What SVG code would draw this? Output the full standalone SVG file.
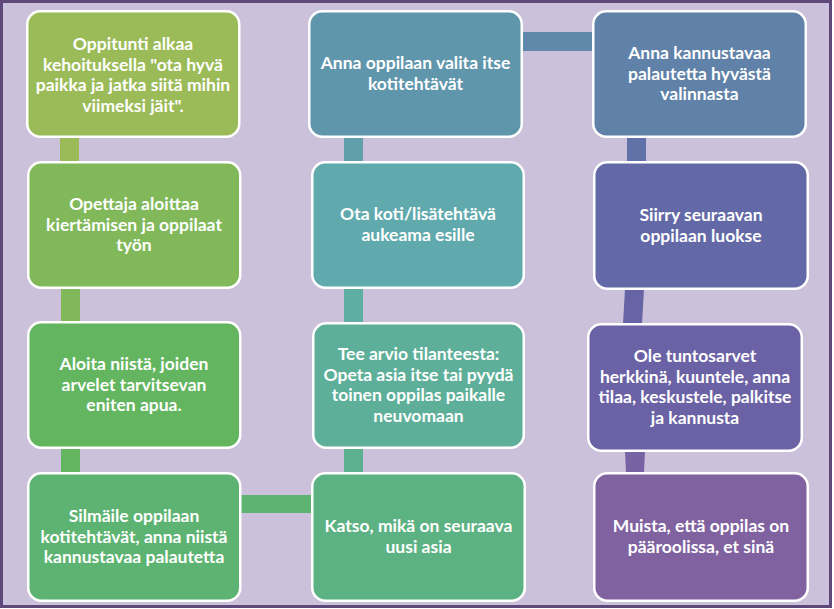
<svg xmlns="http://www.w3.org/2000/svg" width="834" height="609" viewBox="0 0 834 609">
<style>
.box{stroke:#FFFFFF;stroke-width:2.5}
.t{font-family:Lato,"Open Sans","Liberation Sans",sans-serif;font-weight:bold;font-size:17.5px;fill:#FFFFFF;text-anchor:middle}
</style>
<rect x="1.5" y="1.5" width="829" height="605" fill="#CCC1DA" stroke="#5F497A" stroke-width="3"/>
<g id="connectors">
<rect x="60" y="137" width="19" height="25" fill="#9BBB59"/>
<rect x="61" y="288" width="19" height="34" fill="#80B85A"/>
<rect x="61" y="448" width="19" height="25" fill="#63B55F"/>
<rect x="240" y="495" width="72" height="18" fill="#5DB371"/>
<rect x="344" y="448" width="19" height="25" fill="#5DB08F"/>
<rect x="344" y="288" width="19" height="35" fill="#5FAEA4"/>
<rect x="344" y="137" width="19" height="25" fill="#5FA0AC"/>
<rect x="522" y="32" width="71" height="19" fill="#6089A9"/>
<rect x="627" y="137" width="19" height="25" fill="#6172A8"/>
<polygon points="625,289 644,289 642,324 623,324" fill="#6764A6"/>
<polygon points="625,451 645,451 644,473 626,473" fill="#7762A3"/>
</g>
<g id="n1"><rect class="box" x="27.25" y="11.25" width="212" height="125.5" rx="13" fill="#9BBB59"/>
<text class="t" x="133" y="50">Oppitunti alkaa</text>
<text class="t" x="133" y="70.5">kehoituksella "ota hyvä</text>
<text class="t" x="133" y="91">paikka ja jatka siitä mihin</text>
<text class="t" x="133" y="111.5">viimeksi jäit".</text></g>
<g id="n2"><rect class="box" x="28.25" y="162.25" width="212" height="125.5" rx="13" fill="#80B85A"/>
<text class="t" x="134" y="210">Opettaja aloittaa</text>
<text class="t" x="134" y="230.5">kiertämisen ja oppilaat</text>
<text class="t" x="134" y="251">työn</text></g>
<g id="n3"><rect class="box" x="28.25" y="322.25" width="212" height="125.5" rx="13" fill="#63B55F"/>
<text class="t" x="134" y="370">Aloita niistä, joiden</text>
<text class="t" x="134" y="390.5">arvelet tarvitsevan</text>
<text class="t" x="134" y="411">eniten apua.</text></g>
<g id="n4"><rect class="box" x="28.25" y="473.25" width="212" height="127.5" rx="13" fill="#5DB371"/>
<text class="t" x="134" y="522">Silmäile oppilaan</text>
<text class="t" x="134" y="542.5">kotitehtävät, anna niistä</text>
<text class="t" x="134" y="563">kannustavaa palautetta</text></g>
<g id="n5"><rect class="box" x="312.25" y="473.25" width="212.5" height="127.5" rx="13" fill="#5DB283"/>
<text class="t" x="418.5" y="532">Katso, mikä on seuraava</text>
<text class="t" x="418.5" y="552.5">uusi asia</text></g>
<g id="n6"><rect class="box" x="313.25" y="323.25" width="210.5" height="124.5" rx="13" fill="#5EAF99"/>
<text class="t" x="418.5" y="360">Tee arvio tilanteesta:</text>
<text class="t" x="418.5" y="380.5">Opeta asia itse tai pyydä</text>
<text class="t" x="418.5" y="401">toinen oppilas paikalle</text>
<text class="t" x="418.5" y="421.5">neuvomaan</text></g>
<g id="n7"><rect class="box" x="312.25" y="162.25" width="211.5" height="125.5" rx="13" fill="#60AAAE"/>
<text class="t" x="418" y="220">Ota koti/lisätehtävä</text>
<text class="t" x="418" y="240.5">aukeama esille</text></g>
<g id="n8"><rect class="box" x="309.25" y="11.25" width="212.5" height="125.5" rx="13" fill="#6096AB"/>
<text class="t" x="415.5" y="69">Anna oppilaan valita itse</text>
<text class="t" x="415.5" y="89.5">kotitehtävät</text></g>
<g id="n9"><rect class="box" x="593.25" y="11.25" width="212.5" height="125.5" rx="13" fill="#6081A8"/>
<text class="t" x="699.5" y="59">Anna kannustavaa</text>
<text class="t" x="699.5" y="79.5">palautetta hyvästä</text>
<text class="t" x="699.5" y="100">valinnasta</text></g>
<g id="n10"><rect class="box" x="594.25" y="162.25" width="213.5" height="126.5" rx="13" fill="#6269A6"/>
<text class="t" x="701" y="221">Siirry seuraavan</text>
<text class="t" x="701" y="241.5">oppilaan luokse</text></g>
<g id="n11"><rect class="box" x="588.25" y="324.25" width="213.5" height="126.5" rx="13" fill="#6B61A5"/>
<text class="t" x="695" y="362">Ole tuntosarvet</text>
<text class="t" x="695" y="382.5">herkkinä, kuuntele, anna</text>
<text class="t" x="695" y="403">tilaa, keskustele, palkitse</text>
<text class="t" x="695" y="423.5">ja kannusta</text></g>
<g id="n12"><rect class="box" x="594.25" y="473.25" width="213.5" height="127.5" rx="13" fill="#8062A0"/>
<text class="t" x="701" y="532">Muista, että oppilas on</text>
<text class="t" x="701" y="552.5">pääroolissa, et sinä</text></g>
</svg>
